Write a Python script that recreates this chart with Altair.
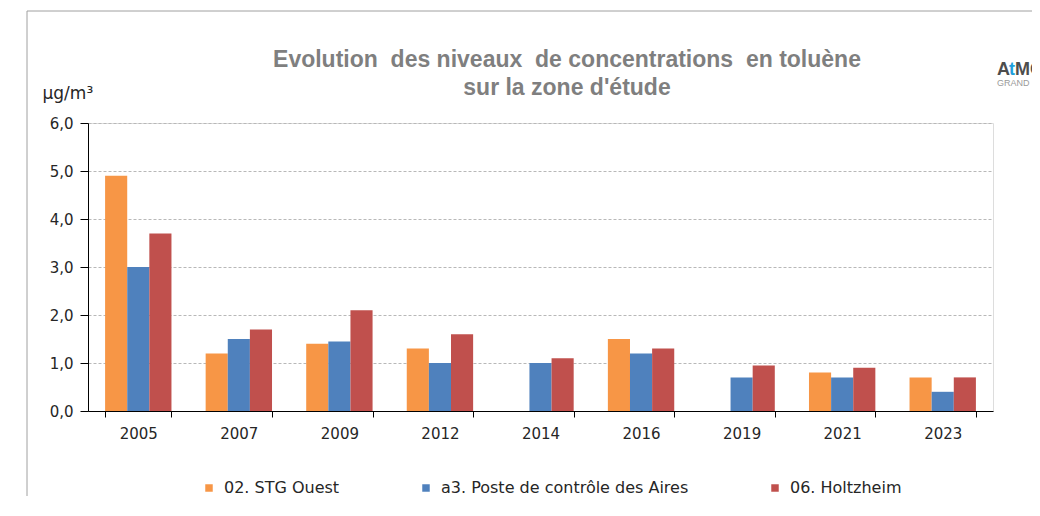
import altair as alt
import pandas as pd

years = ["2005", "2007", "2009", "2012", "2014", "2016", "2019", "2021", "2023"]
series = ["02. STG Ouest", "a3. Poste de contrôle des Aires", "06. Holtzheim"]
stg_ouest = [4.9, 1.2, 1.4, 1.3, None, 1.5, None, 0.8, 0.7]
poste_aires = [3.0, 1.5, 1.45, 1.0, 1.0, 1.2, 0.7, 0.7, 0.4]
holtzheim = [3.7, 1.7, 2.1, 1.6, 1.1, 1.3, 0.95, 0.9, 0.7]
colors = ["#F79646", "#4F81BD", "#C0504D"]
title_line1 = "Evolution\u00a0 des niveaux\u00a0 de concentrations\u00a0 en toluène"
title_line2 = "sur la zone d'étude"

rows = []
for name, vals in zip(series, [stg_ouest, poste_aires, holtzheim]):
    for yr, v in zip(years, vals):
        if v is not None:
            rows.append({"year": yr, "series": name, "value": v})
df = pd.DataFrame(rows)

FONT = "DejaVu Sans"
TXT = "#262626"

bars = alt.Chart(df).mark_bar().encode(
    x=alt.X("year:N", sort=years,
            scale=alt.Scale(domain=years, paddingInner=0.34, paddingOuter=0.17),
            axis=alt.Axis(title=None, labelAngle=0, tickBand="extent", domainColor="#000000",
                          tickColor="#000000", tickSize=6, labelPadding=9, grid=False,
                          labelFont=FONT, labelFontSize=15, labelColor=TXT)),
    xOffset=alt.XOffset("series:N", sort=series, scale=alt.Scale(domain=series)),
    y=alt.Y("value:Q", scale=alt.Scale(domain=[0, 6], nice=False),
            axis=alt.Axis(values=[0, 1, 2, 3, 4, 5, 6],
                          labelExpr="replace(format(datum.value, '.1f'), '.', ',')",
                          grid=True, gridDash=[3, 2], gridColor="#b8b8b8",
                          domainColor="#000000", tickColor="#000000", tickSize=8,
                          labelFont=FONT, labelFontSize=15, labelColor=TXT, labelPadding=7,
                          title="µg/m³", titleAngle=0, titleAlign="left", titleBaseline="alphabetic",
                          titleX=-46, titleY=-25, titleFont=FONT, titleFontSize=17,
                          titleFontWeight="normal", titleColor=TXT)),
    color=alt.Color("series:N", sort=series,
                    scale=alt.Scale(domain=series, range=colors),
                    legend=alt.Legend(orient="none", legendX=113, legendY=357, direction="horizontal",
                                      title=None, symbolType="square", symbolSize=56,
                                      symbolStrokeWidth=0, columns=3, columnPadding=78,
                                      labelFont=FONT, labelFontSize=16, labelColor=TXT,
                                      labelOffset=7, labelLimit=0)),
)

def title_text(line, ypos):
    return alt.Chart(pd.DataFrame({"t": [line]})).mark_text(
        font="Liberation Sans", fontSize=23, fontWeight="bold", color="#7f7f7f",
        align="center", baseline="alphabetic").encode(
        text="t:N", x=alt.value(479), y=alt.value(ypos))

t1 = title_text(title_line1, -56)
t2 = title_text(title_line2, -28)

def logo_text(txt, xpos, ypos, size, color, weight="normal"):
    return alt.Chart(pd.DataFrame({"t": [txt]})).mark_text(
        font="Liberation Sans", fontSize=size, fontWeight=weight, color=color, align="left",
        baseline="alphabetic").encode(text="t:N", x=alt.value(xpos), y=alt.value(ypos))

logo_a = logo_text("A", 909, -48, 18, "#4d4d4d", "bold")
logo_t = logo_text("t", 921, -48, 18, "#1fa0dc", "bold")
logo_mo = logo_text("MO", 927, -48, 18, "#4d4d4d", "bold")
logo_ge = logo_text("GRAND EST", 909, -37, 9, "#9a9a9a")

frame = alt.Chart(pd.DataFrame({"a": [0]})).mark_rect(
    fill=None, stroke="#a0a0a0", strokeWidth=1).encode(
    x=alt.value(-61), x2=alt.value(990), y=alt.value(-112), y2=alt.value(420))

chart = alt.layer(frame, bars, t1, t2, logo_a, logo_t, logo_mo, logo_ge).properties(
    width=905, height=288,
    autosize=alt.AutoSizeParams(type="none"),
    padding={"left": 80, "top": 115, "right": 39, "bottom": 85},
).configure_view(stroke=None).configure(background="white")

chart.save("out.html", embed_options={"renderer": "svg", "actions": False})
